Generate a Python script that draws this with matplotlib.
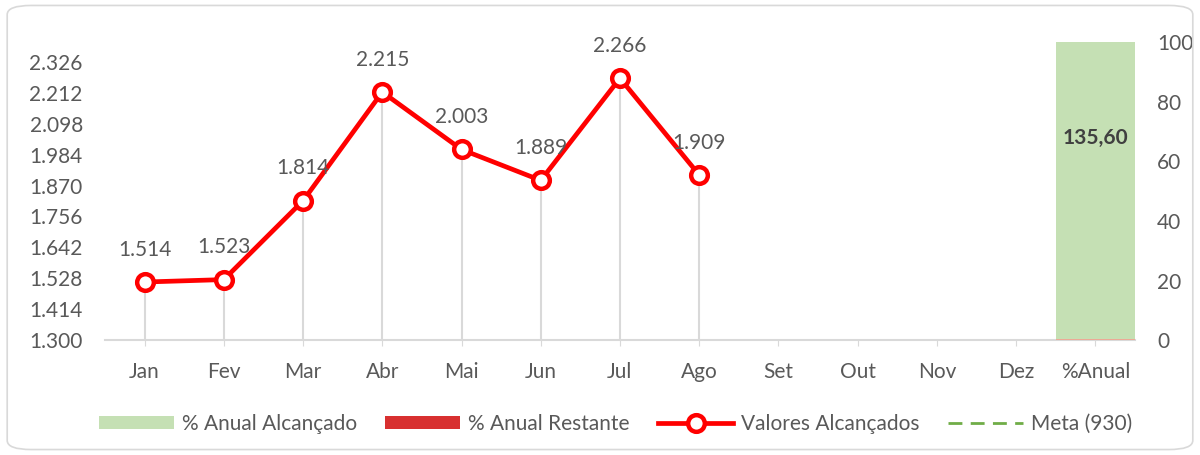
import numpy as np
import matplotlib.pyplot as plt
from matplotlib.patches import Patch, FancyBboxPatch
from matplotlib.lines import Line2D
from matplotlib.ticker import FuncFormatter

plt.rcParams['font.family'] = ['Lato', 'DejaVu Sans']

meses = ['Jan', 'Fev', 'Mar', 'Abr', 'Mai', 'Jun', 'Jul', 'Ago',
         'Set', 'Out', 'Nov', 'Dez', '%Anual']
valores = [1514, 1523, 1814, 2215, 2003, 1889, 2266, 1909]
meta = 930
pct_anual = 135.60
pct_restante = max(0.0, 100.0 - pct_anual)

cinza = '#595959'
fs = 15

fig = plt.figure(figsize=(12, 4.55), dpi=100)
ax = fig.add_axes([0.0875, 0.2527, 0.8583, 0.6573])
ax2 = ax.twinx()

x = np.arange(len(meses))
xv = x[:len(valores)]

# drop lines
ax.vlines(xv, 1300, valores, color='#d9d9d9', lw=1.5, zorder=1)
ax.plot(x, [meta] * len(x), color='#70ad47', lw=2, ls=(0, (5, 3)))
ax.plot(xv, valores, color='#ff0000', lw=3.4, marker='o', ms=12,
        mfc='white', mec='#ff0000', mew=3.2, zorder=3)
for xi, v in zip(xv, valores):
    ax.annotate(f'{v / 1000:.3f}', (xi, v), xytext=(0, 16),
                textcoords='offset points', ha='center', va='bottom',
                fontsize=fs, color=cinza)

ax.set_xlim(-0.5, len(meses) - 0.5)
ax.set_ylim(1300, 2403.5)
ax.set_yticks([1300 + 114 * k for k in range(10)])
ax.yaxis.set_major_formatter(FuncFormatter(lambda v, p: f'{v / 1000:.3f}'))
ax.set_xticks(x)
ax.set_xticklabels(meses)
for s in ['top', 'right', 'left']:
    ax.spines[s].set_visible(False)
ax.spines['bottom'].set_color('#d9d9d9')
ax.spines['bottom'].set_linewidth(1.5)
ax.tick_params(axis='x', colors='#d9d9d9', length=4, labelcolor=cinza,
               labelsize=fs, pad=12)
ax.tick_params(axis='y', length=0, labelcolor=cinza, labelsize=fs, pad=16)

# right axis bar
ax2.bar(x[-1], min(pct_anual, 100), width=1.0, color='#c5e0b4', zorder=2)
ax2.bar(x[-1], pct_restante, width=1.0, bottom=0, color='#e06060',
        edgecolor='#f4a090', lw=1.2, zorder=2)
ax2.text(x[-1], pct_anual / 2, f'{pct_anual:.2f}'.replace('.', ','),
         ha='center', va='center', fontsize=fs, fontweight='bold',
         color='#404040')
ax2.set_ylim(0, 100.5)
ax2.set_yticks(range(0, 101, 20))
for s in ax2.spines.values():
    s.set_visible(False)
ax2.tick_params(axis='y', length=0, labelcolor=cinza, labelsize=fs, pad=16)

handles = [
    Patch(facecolor='#c5e0b4', label='% Anual Alcançado'),
    Patch(facecolor='#d83030', label='% Anual Restante'),
    Line2D([], [], color='#ff0000', lw=3.4, marker='o', ms=12, mfc='white',
           mec='#ff0000', mew=3.2, label='Valores Alcançados'),
    Line2D([], [], color='#70ad47', lw=2, ls=(0, (5, 3)), label='Meta (930)'),
]
leg = fig.legend(handles=handles, loc='center', bbox_to_anchor=(0.513, 0.068),
                 ncol=4, frameon=False, fontsize=fs, handlelength=3.6,
                 handleheight=0.6, columnspacing=1.35, handletextpad=0.4)
for t in leg.get_texts():
    t.set_color(cinza)

fig.patches.append(FancyBboxPatch((0.006, 0.012), 0.988, 0.976,
                                  boxstyle='round,pad=0,rounding_size=0.02',
                                  transform=fig.transFigure, fill=False,
                                  edgecolor='#d9d9d9', lw=1.2))

fig.savefig('out.png', dpi=100)
